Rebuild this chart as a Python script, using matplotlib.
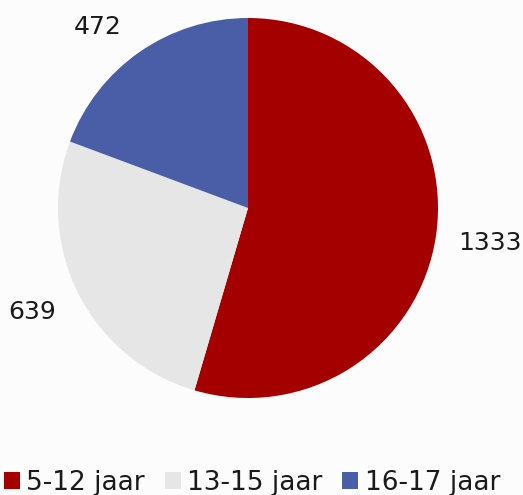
import matplotlib.pyplot as plt
from matplotlib.patches import Patch

categories = ["5-12 jaar", "13-15 jaar", "16-17 jaar"]
values = [1333, 639, 472]
colors = ["#a50000", "#e6e6e6", "#4a5ea8"]

# label anchor points (data units, pie radius = 1), baseline aligned
label_pos = [(1.274, -0.221), (-1.137, -0.584), (-0.789, 0.916)]

fig = plt.figure(figsize=(5.23, 4.95), dpi=100, facecolor="#fcfcfc")
ax = fig.add_axes([58 / 523, 1 - 398 / 495, 380 / 523, 380 / 495])
ax.set_facecolor("#fcfcfc")

wedges, texts = ax.pie(values, colors=colors, startangle=90, counterclock=False,
                       labels=[str(v) for v in values],
                       textprops=dict(fontsize=18, color="#1a1a1a"))
for t, p in zip(texts, label_pos):
    t.set_position(p)
    t.set_ha("center")
    t.set_va("baseline")
    t.set_clip_on(False)
ax.set_xlim(-1, 1)
ax.set_ylim(-1, 1)
ax.set_aspect("equal")

handles = [Patch(facecolor=c, edgecolor="none") for c in colors]
fig.legend(handles, categories, loc="center", bbox_to_anchor=(0.482, 1 - 483 / 495),
           ncol=3, frameon=False, fontsize=19, handlelength=0.6, handleheight=0.6,
           handletextpad=0.25, columnspacing=0.75, labelcolor="#1a1a1a",
           borderpad=0, borderaxespad=0)

fig.savefig("out.png", dpi=100, facecolor=fig.get_facecolor())
